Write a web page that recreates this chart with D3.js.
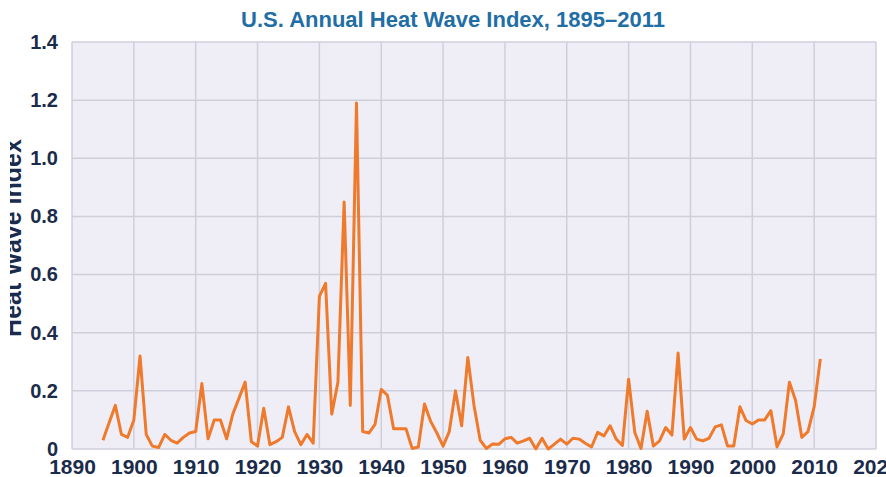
<!DOCTYPE html>
<html>
<head>
<meta charset="utf-8">
<script src="https://cdn.jsdelivr.net/npm/d3@7"></script>
<style>
  html, body { margin: 0; padding: 0; background: #ffffff; }
  svg { display: block; }
</style>
</head>
<body>
<script>
const title = "U.S. Annual Heat Wave Index, 1895\u20132011";
const yLabel = "Heat Wave Index";
const startYear = 1895;
const heatWaveIndex = [
  0.03, 0.09, 0.15, 0.05, 0.04, 0.10, 0.32, 0.05, 0.01, 0.005,
  0.05, 0.03, 0.02, 0.04, 0.055, 0.06, 0.225, 0.035, 0.10, 0.10,
  0.035, 0.12, 0.175, 0.23, 0.025, 0.01, 0.14, 0.015, 0.025, 0.04,
  0.145, 0.06, 0.015, 0.05, 0.02, 0.525, 0.57, 0.12, 0.23, 0.85,
  0.15, 1.19, 0.06, 0.055, 0.085, 0.205, 0.185, 0.07, 0.07, 0.07,
  0.002, 0.007, 0.155, 0.095, 0.055, 0.01, 0.06, 0.20, 0.08, 0.315,
  0.15, 0.03, 0.002, 0.017, 0.016, 0.035, 0.04, 0.02, 0.028, 0.037,
  0.0, 0.037, 0.0, 0.017, 0.034, 0.017, 0.037, 0.034, 0.02, 0.007,
  0.057, 0.045, 0.08, 0.034, 0.012, 0.24, 0.057, 0.002, 0.13, 0.01,
  0.028, 0.074, 0.048, 0.33, 0.034, 0.074, 0.034, 0.028, 0.037, 0.076,
  0.083, 0.01, 0.01, 0.145, 0.098, 0.086, 0.10, 0.10, 0.132, 0.007,
  0.052, 0.23, 0.167, 0.04, 0.06, 0.145, 0.31
];
const xTicks = [1890, 1900, 1910, 1920, 1930, 1940, 1950, 1960, 1970, 1980, 1990, 2000, 2010, 2020];
const yTicks = [0, 0.2, 0.4, 0.6, 0.8, 1.0, 1.2, 1.4];
const yTickLabels = ["0", "0.2", "0.4", "0.6", "0.8", "1.0", "1.2", "1.4"];

const data = heatWaveIndex.map((v, i) => ({ year: startYear + i, value: v }));

const W = 886, H = 477;
const mLeft = 72, mRight = 876, mTop = 42, mBottom = 449;

const svg = d3.select("body").append("svg").attr("width", W).attr("height", H);

const x = d3.scaleLinear().domain([1890, 2020]).range([mLeft, mRight]);
const y = d3.scaleLinear().domain([0, 1.4]).range([mBottom, mTop]);

svg.append("rect")
  .attr("x", mLeft).attr("y", mTop)
  .attr("width", mRight - mLeft).attr("height", mBottom - mTop)
  .attr("fill", "#efeef6");

const gridColor = "#cfcfdc";
svg.append("g").selectAll("line").data(yTicks).join("line")
  .attr("x1", mLeft).attr("x2", mRight)
  .attr("y1", d => y(d)).attr("y2", d => y(d))
  .attr("stroke", gridColor).attr("stroke-width", 1.5);
svg.append("g").selectAll("line").data(xTicks).join("line")
  .attr("x1", d => x(d)).attr("x2", d => x(d))
  .attr("y1", mTop).attr("y2", mBottom)
  .attr("stroke", gridColor).attr("stroke-width", 1.5);

const labelFont = "'Liberation Sans Narrow', 'Arial Narrow', sans-serif";
const navy = "#1b2b4b";

const xAxis = d3.axisBottom(x).tickValues(xTicks).tickFormat(d3.format("d")).tickSize(0).tickPadding(10);
const gx = svg.append("g").attr("transform", `translate(0,${mBottom})`).call(xAxis);
gx.select(".domain").remove();
gx.selectAll("text")
  .attr("font-family", labelFont).attr("font-weight", "bold")
  .attr("font-size", 21).attr("fill", navy);

const yAxis = d3.axisLeft(y).tickValues(yTicks).tickFormat((d, i) => yTickLabels[i]).tickSize(0).tickPadding(14);
const gy = svg.append("g").attr("transform", `translate(${mLeft},0)`).call(yAxis);
gy.select(".domain").remove();
gy.selectAll("text")
  .attr("font-family", labelFont).attr("font-weight", "bold")
  .attr("font-size", 20).attr("fill", navy);

// y label: in the original only the lower part of the glyphs is visible
svg.append("clipPath").attr("id", "ylabClip")
  .append("rect").attr("x", 10).attr("y", 0).attr("width", 30).attr("height", H);
svg.append("g")
  .attr("clip-path", "url(#ylabClip)")
  .append("text")
  .attr("transform", "translate(21,238) rotate(-90)")
  .attr("text-anchor", "middle")
  .attr("font-family", labelFont).attr("font-weight", "bold")
  .attr("font-size", 25).attr("fill", navy)
  .text(yLabel);

svg.append("text")
  .attr("x", 453).attr("y", 27)
  .attr("text-anchor", "middle")
  .attr("font-family", labelFont).attr("font-weight", "bold")
  .attr("font-size", 22).attr("fill", "#1f6ea6")
  .text(title);

const line = d3.line().x(d => x(d.year)).y(d => y(d.value));
svg.append("path")
  .datum(data)
  .attr("d", line)
  .attr("fill", "none")
  .attr("stroke", "#ef7a2c")
  .attr("stroke-width", 3)
  .attr("stroke-linejoin", "round");
</script>
</body>
</html>
